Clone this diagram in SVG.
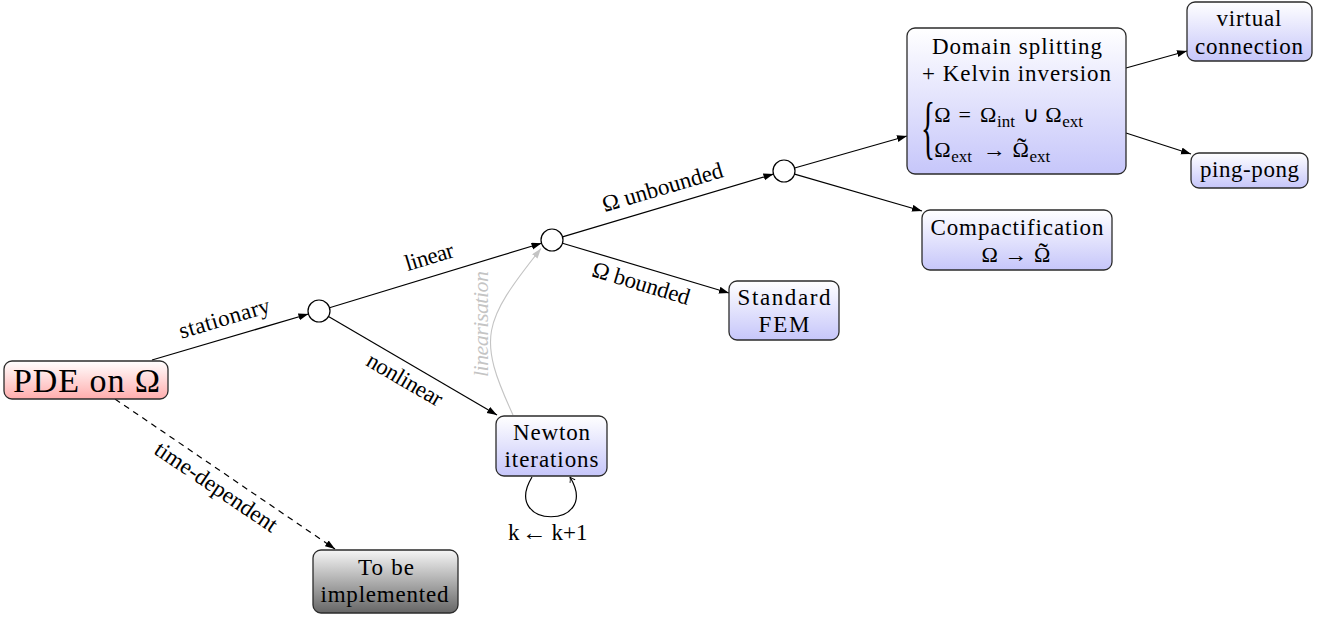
<svg xmlns="http://www.w3.org/2000/svg" width="1333" height="621" viewBox="0 0 1333 621">
<style>
.t{font-family:"Liberation Serif","Times New Roman",serif;font-size:23px;fill:#000}
.m{text-anchor:middle}
.box{stroke:#2b2b2b;stroke-width:1.3}
.circ{fill:#fff;stroke:#000;stroke-width:1.2}
.edge{fill:none;stroke:#000;stroke-width:1.2}
.mm{font-size:22px}
.sub{font-size:17px}
.tl{font-size:28px}
</style>
<defs>
<linearGradient id="gBlue" x1="0" y1="0" x2="0" y2="1"><stop offset="0" stop-color="#ffffff"/><stop offset="1" stop-color="#c6c6fa"/></linearGradient>
<linearGradient id="gRed" x1="0" y1="0" x2="0" y2="1"><stop offset="0" stop-color="#ffffff"/><stop offset="1" stop-color="#ffadad"/></linearGradient>
<linearGradient id="gGray" x1="0" y1="0" x2="0" y2="1"><stop offset="0" stop-color="#f6f6f6"/><stop offset="1" stop-color="#666666"/></linearGradient>
<marker id="arr" markerUnits="userSpaceOnUse" markerWidth="11" markerHeight="8" refX="10" refY="3.5" orient="auto"><path d="M0,0 L10,3.5 L0,7 z" fill="#000"/></marker>
<marker id="arrG" markerUnits="userSpaceOnUse" markerWidth="11" markerHeight="8" refX="10" refY="3.5" orient="auto"><path d="M0,0 L10,3.5 L0,7 z" fill="#c4c4c4"/></marker>
<marker id="arrO" markerUnits="userSpaceOnUse" markerWidth="8" markerHeight="8" refX="6" refY="4" orient="auto"><path d="M1,1 Q4,3.5 6,4 Q4,4.5 1,7" fill="none" stroke="#000" stroke-width="0.9"/></marker>
</defs>
<rect width="1333" height="621" fill="#fff"/>

<g id="connectors">
<path class="edge" d="M152,360 L308.4,314" marker-end="url(#arr)"/>
<path class="edge" d="M329.5,307.8 L541.5,243.2" marker-end="url(#arr)"/>
<path class="edge" d="M328.5,316.5 L497,415" marker-end="url(#arr)"/>
<path class="edge" d="M562.5,236.9 L773.5,174.1" marker-end="url(#arr)"/>
<path class="edge" d="M562.5,243.2 L729,293" marker-end="url(#arr)"/>
<path class="edge" d="M794.6,168 L907,136" marker-end="url(#arr)"/>
<path class="edge" d="M794.6,174.1 L922,211" marker-end="url(#arr)"/>
<path class="edge" d="M1126,68 L1187,51" marker-end="url(#arr)"/>
<path class="edge" d="M1126,133 L1191,154" marker-end="url(#arr)"/>
<path class="edge" d="M115,399 L335,549" stroke-dasharray="6,5" marker-end="url(#arr)"/>
<path class="edge" d="M532,477 C500,530 602,530 570,477" stroke-width="1.1" marker-end="url(#arrO)"/>
<path d="M513,415 C477.3,337.6 482.1,322.6 541,248.5" fill="none" stroke="#c4c4c4" stroke-width="1.1" marker-end="url(#arrG)"/>
<text class="t m" transform="translate(226.6,325.3) rotate(-16.6)" textLength="94" lengthAdjust="spacing">stationary</text>
<text class="t m" transform="translate(431.5,264) rotate(-16.9)" textLength="50" lengthAdjust="spacing">linear</text>
<text class="t m" transform="translate(401,386) rotate(30.3)" textLength="84" lengthAdjust="spacing">nonlinear</text>
<text class="t m" transform="translate(664.6,194.5) rotate(-16.5)" textLength="125" lengthAdjust="spacing">Ω unbounded</text>
<text class="t m" transform="translate(639,290.5) rotate(16.7)" textLength="101" lengthAdjust="spacing">Ω bounded</text>
<text class="t m" transform="translate(212,493) rotate(34.1)" textLength="143" lengthAdjust="spacing">time-dependent</text>
<text class="t m" transform="translate(488,324) rotate(-90)" style="font-style:italic;fill:#c4c4c4;font-size:22px" textLength="106" lengthAdjust="spacing">linearisation</text>
<text class="t" y="540"><tspan x="508">k</tspan><tspan x="521.5" textLength="25" lengthAdjust="spacingAndGlyphs">←</tspan><tspan x="551.5">k+1</tspan></text>
</g>

<g id="pde">
<rect class="box" x="4" y="361" width="164" height="38" rx="8" fill="url(#gRed)"/>
<text class="t m" x="86.5" y="391.5" style="font-size:34px" textLength="147" lengthAdjust="spacing">PDE on Ω</text>
</g>

<g id="c1"><circle class="circ" cx="319" cy="311" r="11"/></g>
<g id="c2"><circle class="circ" cx="552" cy="240" r="11"/></g>
<g id="c3"><circle class="circ" cx="784" cy="171" r="11"/></g>

<g id="newton">
<rect class="box" x="496" y="416" width="111" height="60" rx="8" fill="url(#gBlue)"/>
<text class="t m" x="551.5" y="440" textLength="77" lengthAdjust="spacing">Newton</text>
<text class="t m" x="551.5" y="467" textLength="94" lengthAdjust="spacing">iterations</text>
</g>

<g id="fem">
<rect class="box" x="729" y="281" width="110" height="59" rx="8" fill="url(#gBlue)"/>
<text class="t m" x="784" y="305" textLength="93" lengthAdjust="spacing">Standard</text>
<text class="t m" x="784" y="331.5" textLength="51" lengthAdjust="spacing">FEM</text>
</g>

<g id="domain">
<rect class="box" x="907" y="28" width="219" height="146" rx="8" fill="url(#gBlue)"/>
<text class="t m" x="1017" y="54" textLength="170" lengthAdjust="spacing">Domain splitting</text>
<text class="t m" x="1016.5" y="81" textLength="189" lengthAdjust="spacing">+ Kelvin inversion</text>
<text class="t" transform="translate(921,151) scale(0.42,1)" style="font-size:70px">{</text>
<text class="t mm" y="122"><tspan x="934.3">Ω</tspan><tspan x="958.4">=</tspan><tspan x="980">Ω</tspan><tspan class="sub" x="997" y="127">int</tspan><tspan x="1022.5" y="122">∪</tspan><tspan x="1045.3">Ω</tspan><tspan class="sub" x="1062.3" y="127">ext</tspan></text>
<text class="t mm" y="157"><tspan x="934.3">Ω</tspan><tspan class="sub" x="951.3" y="162">ext</tspan><tspan x="983" y="157" textLength="23" lengthAdjust="spacingAndGlyphs">→</tspan><tspan x="1012.5">Ω</tspan><tspan class="tl" x="1017" y="157">˜</tspan><tspan class="sub" x="1029.5" y="162">ext</tspan></text>
</g>

<g id="compact">
<rect class="box" x="922" y="210" width="190" height="60" rx="8" fill="url(#gBlue)"/>
<text class="t m" x="1017" y="235" textLength="173" lengthAdjust="spacing">Compactification</text>
<text class="t mm" y="262"><tspan x="981.5">Ω</tspan><tspan x="1004.6" textLength="23" lengthAdjust="spacingAndGlyphs">→</tspan><tspan x="1034.1">Ω</tspan><tspan class="tl" x="1038.6" y="262">˜</tspan></text>
</g>

<g id="virtual">
<rect class="box" x="1187" y="2" width="125" height="59" rx="8" fill="url(#gBlue)"/>
<text class="t m" x="1249" y="26" textLength="65" lengthAdjust="spacing">virtual</text>
<text class="t m" x="1249" y="53.5" textLength="108" lengthAdjust="spacing">connection</text>
</g>

<g id="pingpong">
<rect class="box" x="1191" y="153" width="117" height="35" rx="8" fill="url(#gBlue)"/>
<text class="t m" x="1249.5" y="177" textLength="99" lengthAdjust="spacing">ping-pong</text>
</g>

<g id="tobe">
<rect class="box" x="313" y="550" width="145" height="63" rx="8" fill="url(#gGray)"/>
<text class="t m" x="386" y="575" textLength="56" lengthAdjust="spacing">To be</text>
<text class="t m" x="384.5" y="601.5" textLength="128" lengthAdjust="spacing">implemented</text>
</g>
</svg>
